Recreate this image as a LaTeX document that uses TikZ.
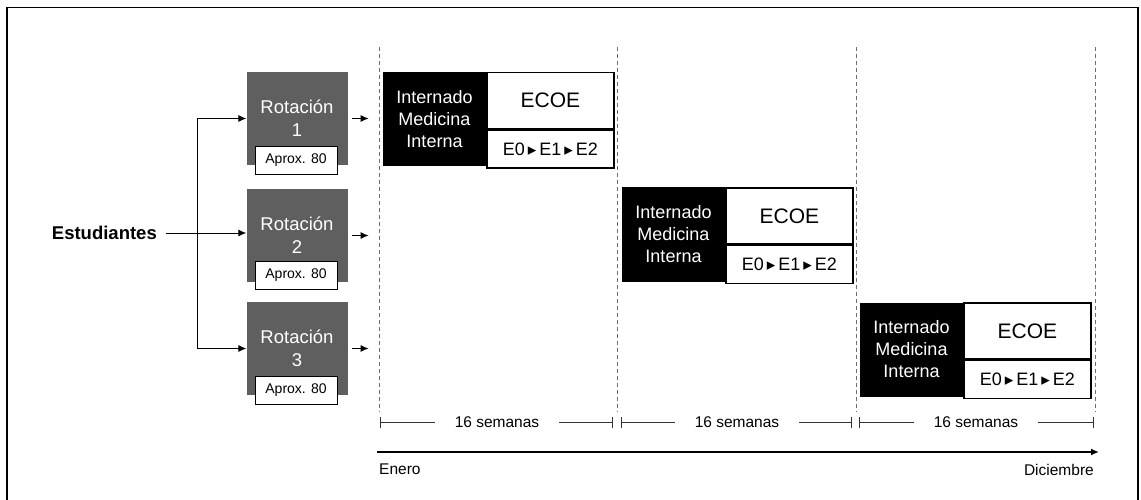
\documentclass[tikz,border=0pt]{standalone}
\usepackage{fontspec}
\setmainfont{Liberation Sans}
\newfontfamily\symfont{DejaVu Sans}
\usetikzlibrary{positioning,arrows.meta}

\definecolor{rotgray}{RGB}{95,95,95}
\definecolor{sepgray}{RGB}{110,110,110}
\newcommand{\tri}{\,{\symfont\fontsize{17pt}{17pt}\selectfont ▸}\,}

\tikzset{
  rotbox/.style={fill=rotgray, text=white, minimum width=101pt, minimum height=93pt,
    inner sep=0pt, align=center, font=\fontsize{18.5pt}{23pt}\selectfont},
  aproxbox/.style={draw=black, line width=0.8pt, fill=white, minimum width=82pt,
    minimum height=28pt, inner sep=0pt, font=\fontsize{14pt}{16pt}\selectfont},
  intbox/.style={fill=black, text=white, minimum width=103pt, minimum height=94pt,
    inner sep=0pt, align=center, font=\fontsize{18pt}{22pt}\selectfont},
  ecoebox/.style={draw=black, line width=1.4pt, fill=white, minimum width=127pt,
    minimum height=56pt, inner sep=0pt, font=\fontsize{21pt}{24pt}\selectfont},
  seqbox/.style={draw=black, line width=1.4pt, fill=white, minimum width=127pt,
    minimum height=38pt, inner sep=0pt, font=\fontsize{18pt}{20pt}\selectfont},
  semlabel/.style={inner xsep=20pt, inner ysep=0pt, font=\fontsize{15.5pt}{18pt}\selectfont},
  sep/.style={sepgray, line width=0.8pt, dash pattern=on 4pt off 3pt},
  span/.style={line width=0.8pt, black!80},
}

\begin{document}
\begin{tikzpicture}[x=1pt, y=-1pt, >={Latex[length=8pt,width=7pt]}]
        \useasboundingbox (0,0) rectangle (1141,500);

        % Draw frame
        \draw[line width=1.5pt] (7,505) -- (7,7.5) -- (1138,7.5) -- (1138,505);

        % Dashed lines for the periods
        \draw[sep] (379,47) -- (379,412);
        \draw[sep] (617,47) -- (617,412);
        \draw[sep] (856,47) -- (856,412);
        \draw[sep] (1095,47) -- (1095,412);

        % Students and rotations
        \node[anchor=east, inner sep=0pt, font=\fontsize{18.5pt}{22pt}\selectfont\bfseries] (est) at (157,233) {Estudiantes};
        \node[rotbox] (rot1) at (297,118.5) {Rotación\\1};
        \node[rotbox] (rot2) at (297,235.5) {Rotación\\2};
        \node[rotbox] (rot3) at (297,348.5) {Rotación\\3};
        \node[aproxbox] (ap1) at (296,160) {Aprox. 80};
        \node[aproxbox] (ap2) at (296,275) {Aprox. 80};
        \node[aproxbox] (ap3) at (296,390.5) {Aprox. 80};

        % Arrows from students to rotations
        \coordinate (split) at (197,233);
        \draw[->, line width=1pt] ([xshift=9pt]est.east) -- (rot2.west |- est.east);
        \draw[->, line width=1pt] (split) |- (rot1.west);
        \draw[->, line width=1pt] (split) |- (rot3.west);

        % Short arrows after rotations
        \draw[->, line width=1.2pt] ([xshift=4pt]rot1.east) -- ++(17,0);
        \draw[->, line width=1.2pt] ([xshift=4pt]rot2.east) -- ++(17,0);
        \draw[->, line width=1.2pt] ([xshift=4pt]rot3.east) -- ++(17,0);

        % Block 1
        \node[intbox] (int1) at (434.5,119) {Internado\\Medicina\\Interna};
        \node[ecoebox, anchor=north west] (ecoe1) at (int1.north east) {ECOE};
        \node[seqbox, anchor=north] (seq1) at (ecoe1.south) {E0\tri E1\tri E2};

        % Block 2
        \node[intbox] (int2) at (673.5,234.5) {Internado\\Medicina\\Interna};
        \node[ecoebox, anchor=north west] (ecoe2) at (int2.north east) {ECOE};
        \node[seqbox, anchor=north] (seq2) at (ecoe2.south) {E0\tri E1\tri E2};

        % Block 3
        \node[intbox] (int3) at (911.5,349.5) {Internado\\Medicina\\Interna};
        \node[ecoebox, anchor=north west] (ecoe3) at (int3.north east) {ECOE};
        \node[seqbox, anchor=north] (seq3) at (ecoe3.south) {E0\tri E1\tri E2};

        % 16 weeks spans
        \coordinate (s1a) at (380,422);
        \coordinate (s1b) at (613,422);
        \coordinate (s2a) at (621,422);
        \coordinate (s2b) at (852,422);
        \coordinate (s3a) at (859,422);
        \coordinate (s3b) at (1094,422);
        \node[semlabel] (sem1) at (497,422) {16 semanas};
        \node[semlabel] (sem2) at (737,422) {16 semanas};
        \node[semlabel] (sem3) at (976,422) {16 semanas};
        \draw[span, {Bar[width=11pt]}-] (s1a) -- (sem1);
        \draw[span, -{Bar[width=11pt]}] (sem1) -- (s1b);
        \draw[span, {Bar[width=11pt]}-] (s2a) -- (sem2);
        \draw[span, -{Bar[width=11pt]}] (sem2) -- (s2b);
        \draw[span, {Bar[width=11pt]}-] (s3a) -- (sem3);
        \draw[span, -{Bar[width=11pt]}] (sem3) -- (s3b);

        % Time axis
        \coordinate (tstart) at (377,452);
        \coordinate (tend) at (1099,452);
        \draw[->, line width=1.8pt] (tstart) -- (tend);
        \node[anchor=west, inner sep=0pt, font=\fontsize{15.5pt}{18pt}\selectfont] (jan) at (379,469) {Enero};
        \node[anchor=east, inner sep=0pt, font=\fontsize{15.5pt}{18pt}\selectfont] (dec) at (1094,470) {Diciembre};
\end{tikzpicture}
\end{document}
